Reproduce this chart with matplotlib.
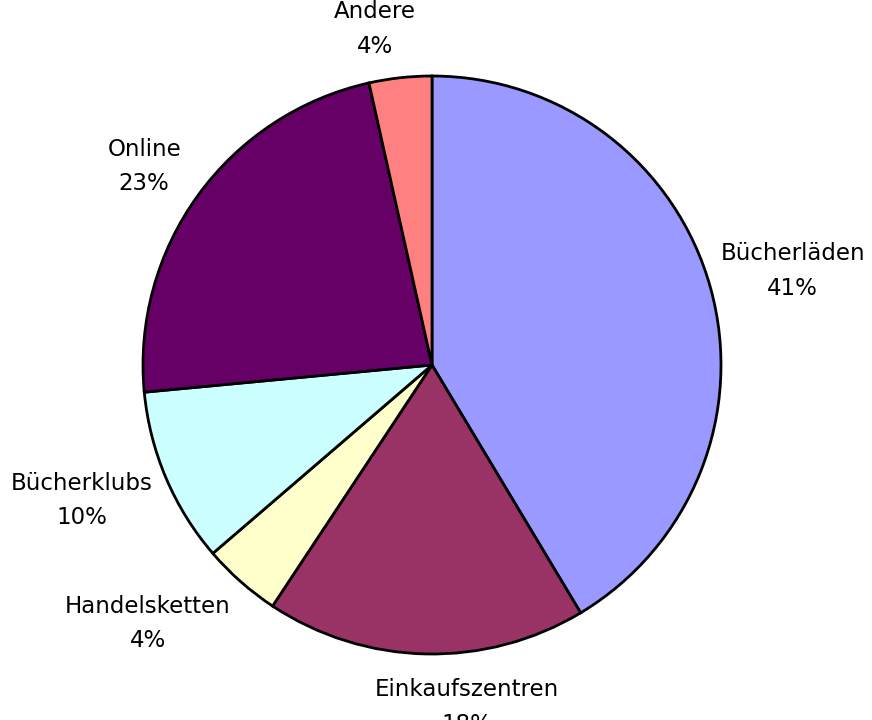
import matplotlib.pyplot as plt
import numpy as np

# Vertriebswege (Anteile in %)
categories = ['Bücherläden', 'Einkaufszentren', 'Handelsketten', 'Bücherklubs', 'Online', 'Andere']
shares = [41.4, 17.9, 4.4, 9.8, 23.0, 3.5]
pct_labels = ['41%', '18%', '4%', '10%', '23%', '4%']
colors = ['#9999FF', '#993366', '#FFFFCC', '#CCFFFF', '#660066', '#FF8080']

# label placement tweaks (radius factor, angle shift in degrees)
label_dist = [1.29, 1.19, 1.33, 1.30, 1.21, 1.18]
label_shift = [-0.9, 7.1, -6.3, -1.9, 1.4, 3.4]

fig = plt.figure(figsize=(8.72, 7.2), dpi=100)
ax = fig.add_axes([0, 0, 1, 1])

wedges, _ = ax.pie(shares, colors=colors, startangle=90, counterclock=False,
                   wedgeprops=dict(edgecolor='black', linewidth=2))

for w, name, pct, d, s in zip(wedges, categories, pct_labels, label_dist, label_shift):
    ang = np.deg2rad((w.theta1 + w.theta2) / 2 + s)
    ax.text(d * np.cos(ang), d * np.sin(ang), name + '\n' + pct,
            ha='center', va='center', fontsize=16.5, linespacing=1.63,
            color='black')

# pie centre at pixel (432, 365), radius 289 px
r = 289.0
ax.set_aspect('auto')
ax.set_xlim(-432 / r, (872 - 432) / r)
ax.set_ylim(-(720 - 365) / r, 365 / r)
ax.axis('off')

fig.savefig('out.png', dpi=100)
